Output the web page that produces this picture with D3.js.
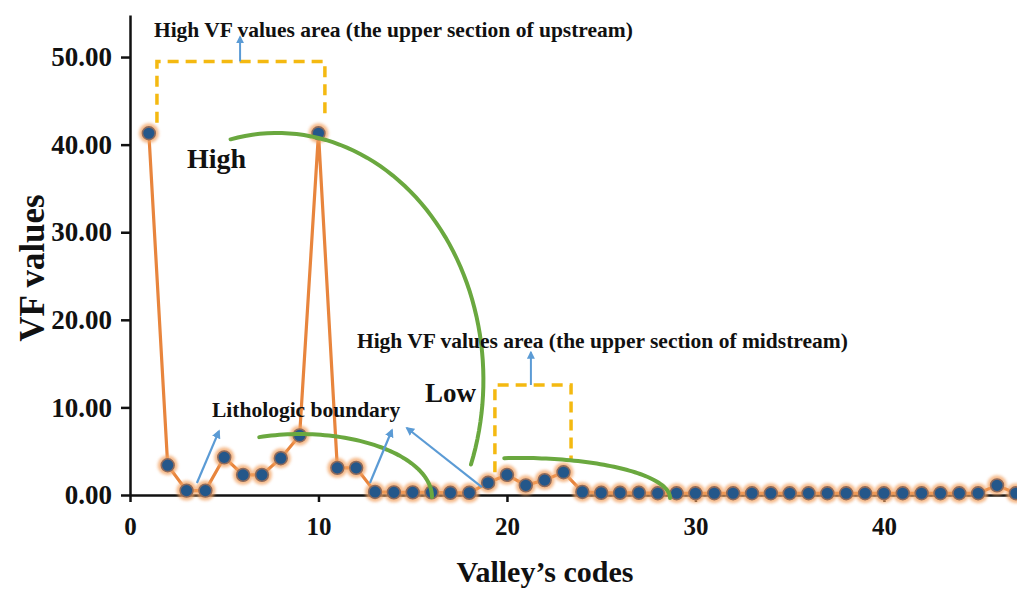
<!DOCTYPE html>
<html>
<head>
<meta charset="utf-8">
<script src="https://cdn.jsdelivr.net/npm/d3@7/dist/d3.min.js"></script>
<style>
  html, body { margin: 0; padding: 0; background: #fff; }
  svg { display: block; }
  text { font-family: "Liberation Serif", "Times New Roman", serif; font-weight: bold; fill: #111; }
</style>
</head>
<body>
<svg id="chart" width="1017" height="590"></svg>
<script>
// Valley codes and their VF values
const codes = d3.range(1, 48);
const vfValues = [
  41.3, 3.4, 0.5, 0.5, 4.3, 2.3, 2.3, 4.2, 6.8, 41.3,
  3.1, 3.1, 0.35, 0.3, 0.3, 0.3, 0.25, 0.25, 1.4, 2.3,
  1.1, 1.7, 2.6, 0.35, 0.25, 0.25, 0.25, 0.2, 0.2, 0.2,
  0.2, 0.2, 0.2, 0.2, 0.2, 0.2, 0.2, 0.2, 0.2, 0.2,
  0.2, 0.2, 0.2, 0.2, 0.2, 1.1, 0.2
];
const xTicks = [0, 10, 20, 30, 40];
const yTicks = [0, 10, 20, 30, 40, 50];

// Annotation layout (data units)
const zoneBrackets = [
  { x0: 1.43, x1: 10.34, top: 49.5, bottomL: 42.5, bottomR: 43.2, arrowX: 5.84, arrowTop: 52.3 },
  { x0: 19.36, x1: 23.4, top: 12.56, bottomL: 2.6, bottomR: 3.8, arrowX: 21.27, arrowTop: 16.3 }
];
const trendArcs = [
  { cx: 7.8, cy: 13.13, rx: 10.95, ry: 28.2, a0: 103, a1: -20 },
  { cx: 9.02, cy: -0.23, rx: 7.0, ry: 7.19, a0: 108, a1: 0 },
  { cx: 20.69, cy: -0.34, rx: 7.96, ry: 4.57, a0: 96, a1: 0 }
];
const boundaryArrows = [
  { from: [3.55, 1.37], to: [4.72, 7.3] },
  { from: [12.73, 1.37], to: [13.9, 7.42] },
  { from: [18.67, 0.91], to: [14.69, 7.65] }
];
const labels = [
  { text: "High VF values area (the upper section of upstream)", x: 1.27, y: 52.3, size: 21.5 },
  { text: "High", x: 3.02, y: 37.3, size: 28 },
  { text: "High VF values area (the upper section of midstream)", x: 12.04, y: 16.8, size: 21.5 },
  { text: "Low", x: 15.65, y: 10.6, size: 27 },
  { text: "Lithologic boundary", x: 4.35, y: 8.9, size: 21.5 }
];

const svg = d3.select("#chart");
const x = d3.scaleLinear().domain([0, 47.06]).range([130, 1017]);
const y = d3.scaleLinear().domain([0, 54.8]).range([495, 15]);

const defs = svg.append("defs");
defs.append("filter").attr("id", "glow").attr("x", "-50%").attr("y", "-50%").attr("width", "200%").attr("height", "200%")
  .append("feGaussianBlur").attr("stdDeviation", 1.6);
const marker = defs.append("marker").attr("id", "arrowHead")
  .attr("viewBox", "0 0 10 10").attr("refX", 8).attr("refY", 5)
  .attr("markerWidth", 4).attr("markerHeight", 4).attr("orient", "auto");
marker.append("path").attr("d", "M0,0 L10,5 L0,10 Z").attr("fill", "#5b9bd5");

// Axes
const xAxis = d3.axisBottom(x).tickValues(xTicks).tickSize(7).tickSizeOuter(0).tickPadding(15);
const yAxis = d3.axisLeft(y).tickValues(yTicks).tickSize(9).tickSizeOuter(0).tickPadding(9)
  .tickFormat(d3.format(".2f"));

const gx = svg.append("g").attr("transform", `translate(0,${y(0)})`).call(xAxis);
const gy = svg.append("g").attr("transform", `translate(${x(0)},0)`).call(yAxis);
[gx, gy].forEach(g => {
  g.select(".domain").attr("stroke", "#111").attr("stroke-width", 2.5);
  g.selectAll(".tick line").attr("stroke", "#111").attr("stroke-width", 2.5);
  g.selectAll(".tick text").attr("fill", "#111")
    .style("font-family", "'Liberation Serif', serif").style("font-weight", "bold");
});
gx.selectAll(".tick text").style("font-size", "25px");
gy.selectAll(".tick text").style("font-size", "27px");

// Axis titles
svg.append("text").attr("x", 545).attr("y", 582).attr("text-anchor", "middle")
  .style("font-size", "30px").text("Valley\u2019s codes");
svg.append("text").attr("transform", "translate(44,268) rotate(-90)").attr("text-anchor", "middle")
  .style("font-size", "35px").text("VF values");

// Dashed zone brackets
const bracketG = svg.append("g");
zoneBrackets.forEach(b => {
  bracketG.append("path")
    .attr("d", `M${x(b.x0)},${y(b.bottomL)} L${x(b.x0)},${y(b.top)} L${x(b.x1)},${y(b.top)} L${x(b.x1)},${y(b.bottomR)}`)
    .attr("fill", "none").attr("stroke", "#f4b911").attr("stroke-width", 3.5)
    .attr("stroke-dasharray", "11,7");
  bracketG.append("line")
    .attr("x1", x(b.arrowX)).attr("y1", y(b.top)).attr("x2", x(b.arrowX)).attr("y2", y(b.arrowTop))
    .attr("stroke", "#5b9bd5").attr("stroke-width", 2).attr("marker-end", "url(#arrowHead)");
});

// Series line
const line = d3.line().x((d, i) => x(codes[i])).y(d => y(d));
svg.append("path").datum(vfValues).attr("d", line)
  .attr("fill", "none").attr("stroke", "#e8853d").attr("stroke-width", 3.2);

// Points with soft orange halo
const pts = svg.append("g").selectAll("g").data(vfValues).join("g")
  .attr("transform", (d, i) => `translate(${x(codes[i])},${y(d)})`);
pts.append("circle").attr("r", 10).attr("fill", "#f2a262").attr("opacity", 0.75).attr("filter", "url(#glow)");
pts.append("circle").attr("r", 6.4).attr("fill", "#24578a").attr("stroke", "#8d6a5c").attr("stroke-width", 1.6);

// Green trend arcs
const arcLine = d3.line().x(p => x(p[0])).y(p => y(p[1]));
trendArcs.forEach(a => {
  const pts = d3.range(0, 61).map(k => {
    const t = (a.a0 + (a.a1 - a.a0) * k / 60) * Math.PI / 180;
    return [a.cx + a.rx * Math.cos(t), a.cy + a.ry * Math.sin(t)];
  });
  svg.append("path").attr("d", arcLine(pts)).attr("fill", "none")
    .attr("stroke", "#6aa83f").attr("stroke-width", 4).attr("stroke-linecap", "round");
});

// Blue boundary arrows
boundaryArrows.forEach(a => {
  svg.append("line")
    .attr("x1", x(a.from[0])).attr("y1", y(a.from[1]))
    .attr("x2", x(a.to[0])).attr("y2", y(a.to[1]))
    .attr("stroke", "#5b9bd5").attr("stroke-width", 2.2).attr("marker-end", "url(#arrowHead)");
});

// Text annotations
labels.forEach(l => {
  svg.append("text").attr("x", x(l.x)).attr("y", y(l.y))
    .style("font-size", l.size + "px").text(l.text);
});
</script>
</body>
</html>
